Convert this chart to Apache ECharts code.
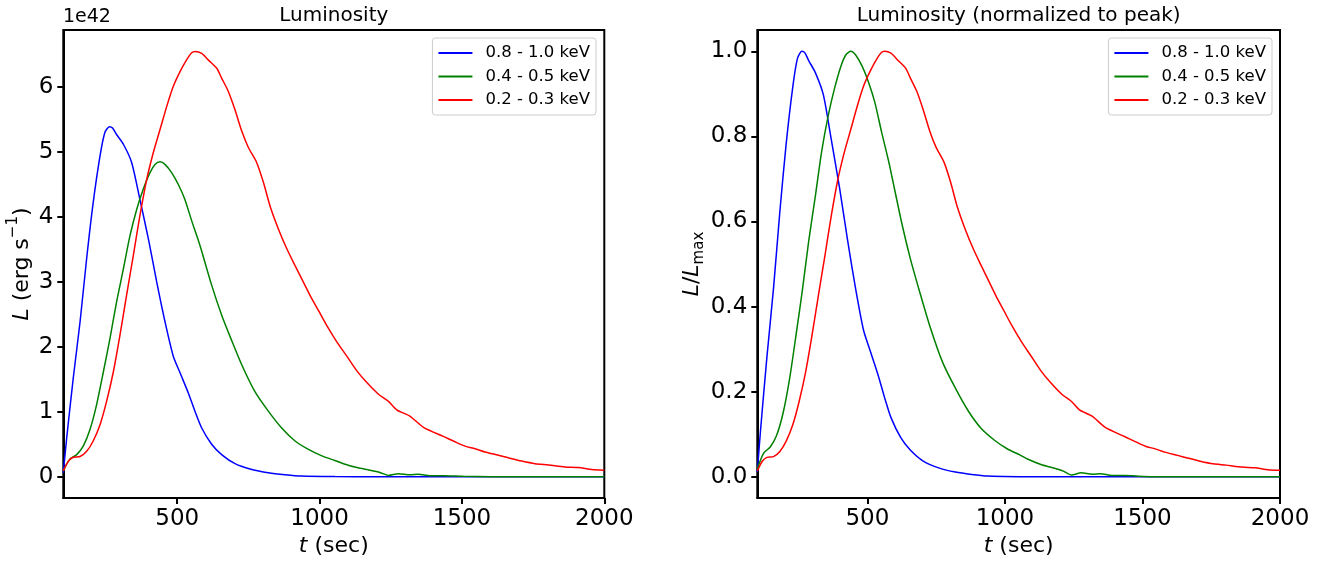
<!DOCTYPE html>
<html>
<head>
<meta charset="utf-8">
<script src="https://cdn.jsdelivr.net/npm/echarts@6/dist/echarts.min.js"></script>
<style>html,body{margin:0;padding:0;background:#fff}#c{width:1332px;height:562px}</style>
</head>
<body>
<div id="c"></div>
<script>
// ---- data (luminosity in units of 1e42 erg/s) ----
const seriesNames = ['0.8 - 1.0 keV', '0.4 - 0.5 keV', '0.2 - 0.3 keV'];
const seriesColors = ['#0000ff', '#008000', '#ff0000'];

const tBlue = [100,112,135,159,182,205,229,246,262,273,287,311,340,369,399,428,457,486,510,539,563,586,621,656,703,762,820,879,937,1054,1200,1500,2000];
const lBlue = [0.06,0.60,1.52,2.39,3.36,4.22,4.94,5.30,5.39,5.37,5.27,5.12,4.84,4.27,3.66,3.00,2.39,1.86,1.60,1.29,1.00,0.75,0.50,0.34,0.20,0.11,0.06,0.03,0.01,0.002,0,0,0];

const tGreen = [100,123,147,170,194,217,241,264,287,311,334,358,381,404,422,440,457,481,504,527,551,580,621,656,691,727,773,820,867,914,961,1008,1054,1084,1131,1177,1212,1242,1277,1318,1347,1388,1435,1505,1600,2000];
const lGreen = [0.09,0.27,0.34,0.47,0.73,1.11,1.62,2.13,2.69,3.20,3.71,4.12,4.43,4.68,4.81,4.85,4.81,4.68,4.50,4.27,3.94,3.56,2.95,2.49,2.10,1.72,1.31,1.01,0.75,0.55,0.42,0.32,0.25,0.20,0.14,0.10,0.065,0.02,0.046,0.03,0.036,0.015,0.015,0.005,0,0];

const tRed = [100,118,135,159,182,205,229,252,276,299,322,346,369,393,416,440,463,486,510,533,551,563,586,609,639,656,680,703,727,750,779,803,826,855,885,914,937,967,996,1025,1060,1095,1131,1166,1207,1242,1271,1318,1365,1435,1470,1511,1546,1581,1628,1663,1710,1757,1804,1862,1909,1956,2000];
const lRed = [0.09,0.24,0.30,0.31,0.39,0.55,0.80,1.16,1.62,2.18,2.79,3.41,4.02,4.58,4.99,5.35,5.70,6.01,6.24,6.42,6.53,6.55,6.52,6.42,6.29,6.14,5.93,5.65,5.32,5.07,4.84,4.53,4.17,3.82,3.51,3.25,3.05,2.79,2.56,2.33,2.08,1.86,1.63,1.45,1.27,1.16,1.03,0.93,0.76,0.62,0.55,0.47,0.43,0.38,0.33,0.29,0.24,0.20,0.18,0.15,0.14,0.11,0.10];

const xTicks = [500, 1000, 1500, 2000];
const yTicksLeft = [0, 1, 2, 3, 4, 5, 6];
const yTicksRight = [0, 0.2, 0.4, 0.6, 0.8, 1.0];

// ---- build ----
const FONT = 'DejaVu Sans';
const times = [tBlue, tGreen, tRed];
const lums = [lBlue, lGreen, lRed];

function pairs(t, v, scale) { return t.map((x, i) => [x, v[i] / scale]); }

const series = [];
for (let k = 0; k < 3; k++) {
  const peak = Math.max.apply(null, lums[k]);
  const common = {
    type: 'line', name: seriesNames[k], showSymbol: false, smooth: 0.25,
    lineStyle: { color: seriesColors[k], width: 1.5 }, itemStyle: { color: seriesColors[k] },
    animation: false, silent: true
  };
  series.push(Object.assign({}, common, { xAxisIndex: 0, yAxisIndex: 0, data: pairs(times[k], lums[k], 1) }));
  series.push(Object.assign({}, common, { xAxisIndex: 1, yAxisIndex: 1, data: pairs(times[k], lums[k], peak) }));
}

const axisText = { color: '#000', fontFamily: FONT, fontSize: 23 };
const tickStyle = { show: true, length: 6, inside: false, lineStyle: { color: '#000', width: 2 } };
const lineStyle = { show: true, onZero: false, lineStyle: { color: '#000', width: 2 } };

function xAxis(gi) {
  return {
    type: 'value', gridIndex: gi, min: 100, max: 2000, position: 'bottom',
    axisLine: lineStyle,
    axisTick: Object.assign({ customValues: xTicks }, tickStyle),
    axisLabel: Object.assign({ margin: 9, customValues: xTicks, formatter: v => String(v) }, axisText),
    splitLine: { show: false },
    name: '{i|t}{n| (sec)}', nameLocation: 'middle', nameGap: 36,
    nameTextStyle: Object.assign({}, axisText, {
      rich: { i: { fontStyle: 'italic', fontFamily: FONT, fontSize: 22, color: '#000' },
              n: { fontFamily: FONT, fontSize: 22, color: '#000' } }
    })
  };
}

const option = {
  backgroundColor: '#fff',
  animation: false,
  grid: [
    { left: 63.3, top: 30, width: 541, height: 470.7, show: true, borderColor: '#000', borderWidth: 2, backgroundColor: 'transparent' },
    { left: 757.3, top: 30, width: 522.7, height: 470.7, show: true, borderColor: '#000', borderWidth: 2, backgroundColor: 'transparent' }
  ],
  xAxis: [xAxis(0), xAxis(1)],
  yAxis: [
    {
      type: 'value', gridIndex: 0, min: -0.33, max: 6.88, position: 'left',
      axisLine: lineStyle,
      axisTick: Object.assign({ customValues: yTicksLeft }, tickStyle),
      axisLabel: Object.assign({ margin: 10, customValues: yTicksLeft, formatter: v => String(v) }, axisText),
      splitLine: { show: false },
      name: '{i|L}{n| (erg s}{sup|−1}{n|)}', nameLocation: 'middle', nameGap: 30,
      nameTextStyle: Object.assign({}, axisText, {
        rich: {
          i: { fontStyle: 'italic', fontFamily: FONT, fontSize: 22, color: '#000', lineHeight: 28, verticalAlign: 'bottom' },
          n: { fontFamily: FONT, fontSize: 22, color: '#000', lineHeight: 28, verticalAlign: 'bottom' },
          sup: { fontFamily: FONT, fontSize: 15, color: '#000', lineHeight: 15, verticalAlign: 'top' }
        }
      })
    },
    {
      type: 'value', gridIndex: 1, min: -0.05, max: 1.05, position: 'left',
      axisLine: lineStyle,
      axisTick: Object.assign({ customValues: yTicksRight }, tickStyle),
      axisLabel: Object.assign({ margin: 10, customValues: yTicksRight, formatter: v => v.toFixed(1) }, axisText),
      splitLine: { show: false },
      name: '{i|L}{n|/}{i|L}{sub|max}', nameLocation: 'middle', nameGap: 42,
      nameTextStyle: Object.assign({}, axisText, {
        rich: {
          i: { fontStyle: 'italic', fontFamily: FONT, fontSize: 22, color: '#000', lineHeight: 26, verticalAlign: 'top' },
          n: { fontFamily: FONT, fontSize: 22, color: '#000', lineHeight: 26, verticalAlign: 'top' },
          sub: { fontFamily: FONT, fontSize: 15, color: '#000', lineHeight: 15, verticalAlign: 'bottom' }
        }
      })
    }
  ],
  legend: [0, 1].map(k => ({
    orient: 'vertical', right: k === 0 ? 736 : 60, top: 38,
    data: seriesNames, selectedMode: false, icon: 'rect',
    itemWidth: 34, itemHeight: 2, itemGap: 3.5,
    textStyle: { color: '#000', fontFamily: FONT, fontSize: 16.5, lineHeight: 20, padding: [0, 0, 0, 8] },
    backgroundColor: 'rgba(255,255,255,0.8)', borderColor: '#cccccc', borderWidth: 1, borderRadius: 3,
    padding: [5, 6, 5, 6]
  })),
  graphic: [
    { type: 'text', x: 333.8, y: 6, style: { text: 'Luminosity', font: '20px "DejaVu Sans"', fill: '#000', textAlign: 'center', textVerticalAlign: 'top' } },
    { type: 'text', x: 1018.7, y: 6, style: { text: 'Luminosity (normalized to peak)', font: '20px "DejaVu Sans"', fill: '#000', textAlign: 'center', textVerticalAlign: 'top' } },
    { type: 'text', x: 63, y: 8, style: { text: '1e42', font: '19px "DejaVu Sans"', fill: '#000', textAlign: 'left', textVerticalAlign: 'top' } }
  ],
  series: series
};

const chart = echarts.init(document.getElementById('c'), null, { renderer: 'canvas' });
chart.setOption(option);
</script>
</body>
</html>
